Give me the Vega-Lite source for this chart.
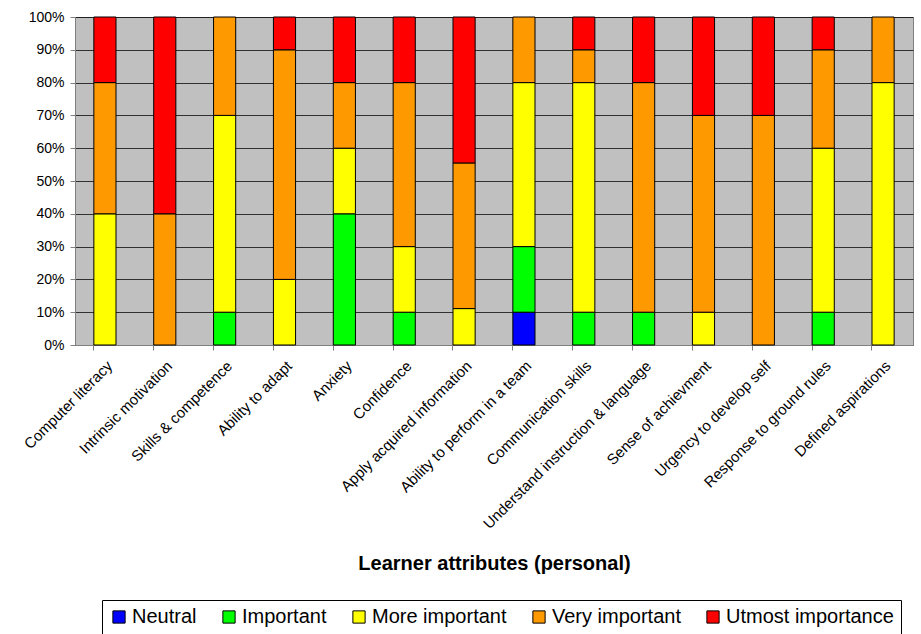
{
  "$schema": "https://vega.github.io/schema/vega-lite/v6.json",
  "autosize": {"type": "none"},
  "width": 838,
  "height": 328,
  "padding": {"left": 75, "top": 17, "right": 8, "bottom": 289},
  "background": "white",
  "config": {
    "font": "Liberation Sans",
    "view": {"fill": "#C0C0C0", "stroke": "#808080", "strokeWidth": 1}
  },
  "data": {
    "values": [
      {"attr": "Computer literacy", "level": "More important", "pct": 40},
      {"attr": "Computer literacy", "level": "Very important", "pct": 40},
      {"attr": "Computer literacy", "level": "Utmost importance", "pct": 20},
      {"attr": "Intrinsic motivation", "level": "Very important", "pct": 40},
      {"attr": "Intrinsic motivation", "level": "Utmost importance", "pct": 60},
      {"attr": "Skills & competence", "level": "Important", "pct": 10},
      {"attr": "Skills & competence", "level": "More important", "pct": 60},
      {"attr": "Skills & competence", "level": "Very important", "pct": 30},
      {"attr": "Ability to adapt", "level": "More important", "pct": 20},
      {"attr": "Ability to adapt", "level": "Very important", "pct": 70},
      {"attr": "Ability to adapt", "level": "Utmost importance", "pct": 10},
      {"attr": "Anxiety", "level": "Important", "pct": 40},
      {"attr": "Anxiety", "level": "More important", "pct": 20},
      {"attr": "Anxiety", "level": "Very important", "pct": 20},
      {"attr": "Anxiety", "level": "Utmost importance", "pct": 20},
      {"attr": "Confidence", "level": "Important", "pct": 10},
      {"attr": "Confidence", "level": "More important", "pct": 20},
      {"attr": "Confidence", "level": "Very important", "pct": 50},
      {"attr": "Confidence", "level": "Utmost importance", "pct": 20},
      {"attr": "Apply acquired information", "level": "More important", "pct": 11.1},
      {"attr": "Apply acquired information", "level": "Very important", "pct": 44.4},
      {"attr": "Apply acquired information", "level": "Utmost importance", "pct": 44.5},
      {"attr": "Ability to perform in a team", "level": "Neutral", "pct": 10},
      {"attr": "Ability to perform in a team", "level": "Important", "pct": 20},
      {"attr": "Ability to perform in a team", "level": "More important", "pct": 50},
      {"attr": "Ability to perform in a team", "level": "Very important", "pct": 20},
      {"attr": "Communication skills", "level": "Important", "pct": 10},
      {"attr": "Communication skills", "level": "More important", "pct": 70},
      {"attr": "Communication skills", "level": "Very important", "pct": 10},
      {"attr": "Communication skills", "level": "Utmost importance", "pct": 10},
      {"attr": "Understand instruction & language", "level": "Important", "pct": 10},
      {"attr": "Understand instruction & language", "level": "Very important", "pct": 70},
      {"attr": "Understand instruction & language", "level": "Utmost importance", "pct": 20},
      {"attr": "Sense of achievment", "level": "More important", "pct": 10},
      {"attr": "Sense of achievment", "level": "Very important", "pct": 60},
      {"attr": "Sense of achievment", "level": "Utmost importance", "pct": 30},
      {"attr": "Urgency to develop self", "level": "Very important", "pct": 70},
      {"attr": "Urgency to develop self", "level": "Utmost importance", "pct": 30},
      {"attr": "Response to ground rules", "level": "Important", "pct": 10},
      {"attr": "Response to ground rules", "level": "More important", "pct": 50},
      {"attr": "Response to ground rules", "level": "Very important", "pct": 30},
      {"attr": "Response to ground rules", "level": "Utmost importance", "pct": 10},
      {"attr": "Defined aspirations", "level": "More important", "pct": 80},
      {"attr": "Defined aspirations", "level": "Very important", "pct": 20}
    ]
  },
  "transform": [
    {"calculate": "indexof(['Neutral', 'Important', 'More important', 'Very important', 'Utmost importance'], datum.level)", "as": "levelRank"}
  ],
  "mark": {"type": "bar", "stroke": "#000000", "strokeWidth": 1},
  "encoding": {
    "x": {
      "field": "attr",
      "type": "nominal",
      "sort": null,
      "scale": {"paddingInner": 0.63, "paddingOuter": 0.315},
      "axis": {
        "title": "Learner attributes (personal)",
        "titleFontSize": 20,
        "titleFontWeight": "bold",
        "titleColor": "#000000",
        "titleY": 218,
        "titleBaseline": "middle",
        "labelAngle": -45,
        "labelFontSize": 15,
        "labelColor": "#000000",
        "labelLimit": 400,
        "labelPadding": 8,
        "bandPosition": 0,
        "ticks": true,
        "tickColor": "#808080",
        "tickSize": 5,
        "domainColor": "#808080",
        "grid": false
      }
    },
    "y": {
      "field": "pct",
      "type": "quantitative",
      "stack": "normalize",
      "scale": {"domain": [0, 1]},
      "axis": {
        "title": null,
        "format": ".0%",
        "values": [0, 0.1, 0.2, 0.3, 0.4, 0.5, 0.6, 0.7, 0.8, 0.9, 1],
        "labelOverlap": false,
        "labelFontSize": 14,
        "labelColor": "#000000",
        "labelPadding": 6,
        "grid": true,
        "gridColor": "#000000",
        "gridOpacity": 0.75,
        "gridWidth": 1,
        "domainColor": "#808080",
        "tickColor": "#808080",
        "tickSize": 5
      }
    },
    "color": {
      "field": "level",
      "type": "nominal",
      "sort": ["Neutral", "Important", "More important", "Very important", "Utmost importance"],
      "scale": {
        "domain": ["Neutral", "Important", "More important", "Very important", "Utmost importance"],
        "range": ["#0000FF", "#00FF00", "#FFFF00", "#FF9900", "#FF0000"]
      },
      "legend": {
        "title": null,
        "orient": "none",
        "direction": "horizontal",
        "legendX": 27,
        "legendY": 583,
        "symbolType": "square",
        "symbolSize": 150,
        "symbolStrokeColor": "#000000",
        "symbolStrokeWidth": 1,
        "symbolOpacity": 1,
        "labelFontSize": 20,
        "labelLimit": 300,
        "labelColor": "#000000",
        "labelOffset": 3,
        "columnPadding": 22,
        "strokeColor": "#000000",
        "padding": 7,
        "fillColor": "#FFFFFF"
      }
    },
    "order": {"field": "levelRank", "type": "quantitative", "sort": "ascending"}
  }
}
